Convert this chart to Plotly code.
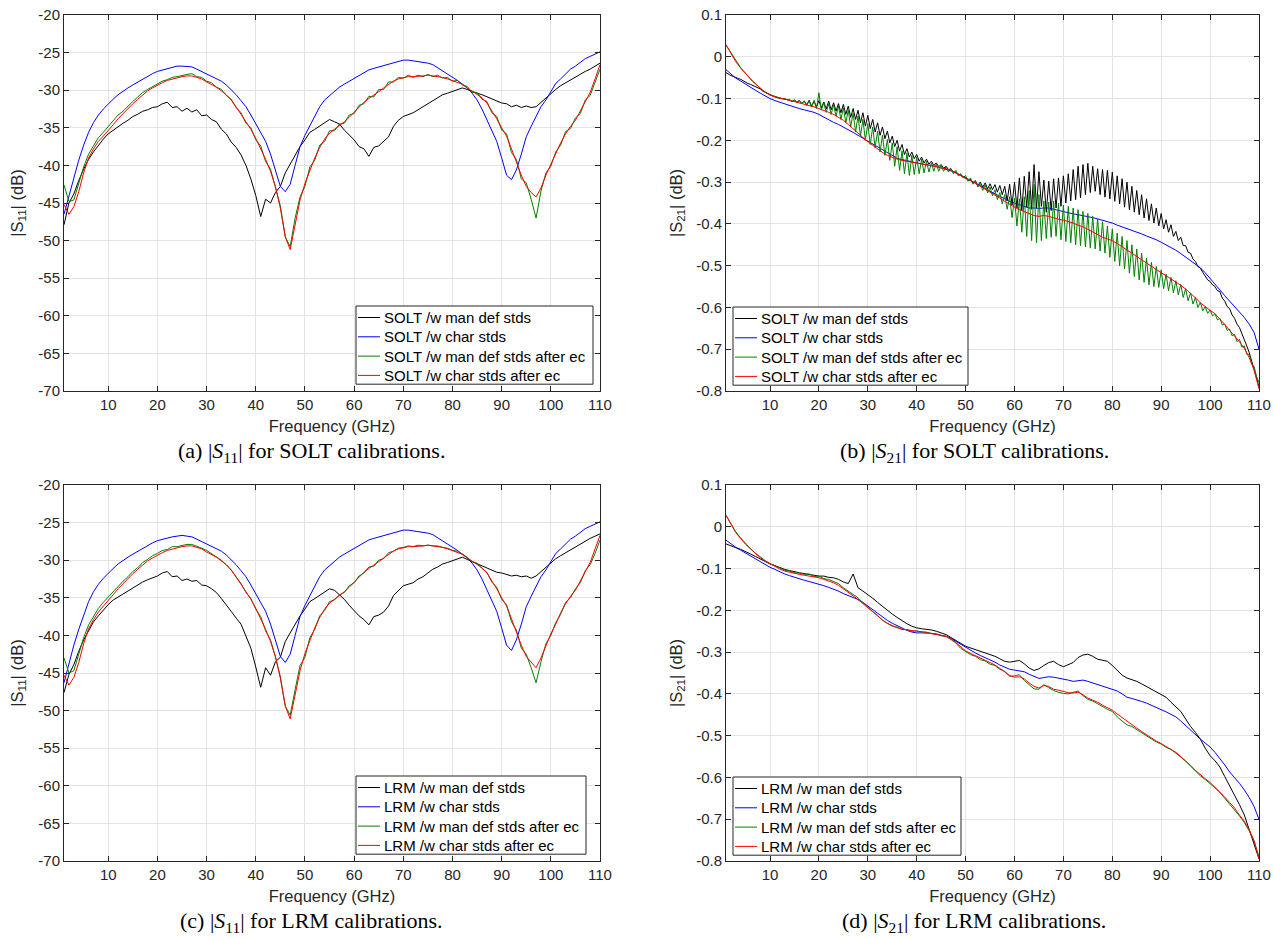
import plotly.graph_objects as go

freq = list(range(1, 111))
freq_fine = [1 + 0.5 * i for i in range(219)]

# ---------- (a) |S11| SOLT ----------
a_man = [-47.9,-45.0,-43.8,-42.0,-40.5,-39.2,-38.2,-37.3,-36.5,-35.8,-35.3,-34.8,-34.4,-34.0,-33.5,-33.2,-32.8,-32.6,-32.3,-32.2,
         -31.8,-31.6,-32.3,-32.2,-32.8,-32.4,-32.9,-32.6,-33.4,-33.3,-33.9,-34.2,-35.2,-35.8,-36.9,-37.6,-38.6,-40.0,-41.8,-44.0,
         -46.8,-44.5,-45.0,-43.6,-42.8,-41.0,-39.8,-38.6,-37.5,-36.6,-35.6,-35.2,-34.8,-34.3,-33.9,-34.2,-34.5,-35.3,-35.9,-36.6,
         -37.5,-37.8,-38.8,-37.6,-37.4,-36.8,-36.2,-34.8,-34.0,-33.5,-33.3,-33.0,-32.6,-32.2,-31.8,-31.3,-30.9,-30.6,-30.4,-30.2,
         -30.0,-29.7,-29.9,-30.2,-30.4,-30.6,-30.9,-31.2,-31.5,-31.7,-31.8,-32.2,-32.0,-32.3,-32.1,-32.3,-32.2,-31.6,-31.0,-30.4,
         -29.9,-29.4,-29.0,-28.6,-28.3,-27.9,-27.5,-27.2,-26.8,-26.4]
a_char = [-46.5,-44.0,-41.5,-39.3,-37.3,-35.6,-34.3,-33.3,-32.5,-31.8,-31.2,-30.6,-30.1,-29.7,-29.3,-28.9,-28.5,-28.1,-27.8,-27.5,
          -27.3,-27.1,-26.9,-26.8,-26.8,-26.8,-26.9,-27.2,-27.5,-27.8,-28.1,-28.4,-28.8,-29.3,-29.9,-30.6,-31.4,-32.2,-33.3,-34.5,
          -35.6,-36.8,-38.5,-40.6,-42.8,-43.5,-42.5,-40.0,-37.5,-36.0,-34.8,-33.4,-32.2,-31.3,-30.7,-30.1,-29.6,-29.2,-28.8,-28.4,
          -28.0,-27.6,-27.3,-27.1,-26.9,-26.7,-26.5,-26.3,-26.1,-26.0,-26.0,-26.1,-26.2,-26.3,-26.4,-26.6,-27.0,-27.5,-27.9,-28.3,
          -28.7,-29.2,-29.7,-30.4,-31.3,-32.5,-33.9,-35.2,-36.8,-39.0,-41.3,-41.9,-40.6,-38.5,-36.2,-34.8,-33.4,-32.2,-31.3,-30.2,
          -29.1,-28.5,-27.8,-27.2,-26.8,-26.3,-25.8,-25.5,-25.2,-24.9]
a_man_ec = [-42.6,-44.8,-44.6,-42.5,-40.2,-38.5,-37.4,-36.3,-35.6,-34.8,-34.1,-33.3,-32.8,-32.1,-31.5,-30.9,-30.3,-29.9,-29.5,-29.1,
            -28.8,-28.6,-28.3,-28.2,-28.0,-27.9,-27.8,-28.2,-28.3,-28.8,-29.0,-29.6,-29.9,-30.7,-31.2,-32.3,-33.0,-34.4,-35.0,-36.6,
            -37.4,-39.5,-40.5,-43.0,-45.4,-49.5,-50.8,-47.0,-44.2,-42.8,-40.2,-39.3,-37.3,-36.8,-35.4,-35.4,-34.5,-34.4,-33.3,-33.1,
            -32.0,-31.8,-30.8,-30.9,-29.9,-29.9,-28.9,-28.9,-28.3,-28.4,-28.0,-28.3,-28.0,-28.2,-27.9,-28.2,-28.0,-28.4,-28.3,-28.8,
            -28.7,-29.3,-29.5,-30.3,-30.3,-31.2,-31.5,-33.0,-33.5,-35.3,-35.8,-38.3,-39.2,-41.8,-42.3,-44.5,-47.0,-43.4,-41.0,-40.1,
            -38.2,-37.3,-35.5,-35.1,-33.7,-33.1,-31.3,-30.7,-29.0,-27.2]
a_char_ec = [-45.2,-46.5,-45.5,-43.5,-41.0,-39.0,-37.8,-36.8,-36.1,-35.4,-34.6,-33.8,-33.1,-32.5,-31.8,-31.2,-30.6,-30.1,-29.7,-29.3,
             -29.0,-28.7,-28.5,-28.3,-28.2,-28.1,-28.1,-28.3,-28.5,-28.9,-29.2,-29.6,-30.1,-30.6,-31.3,-32.2,-33.2,-34.2,-35.2,-36.4,
             -37.7,-39.2,-40.8,-42.8,-45.7,-49.5,-51.2,-47.8,-44.6,-42.4,-40.6,-39.0,-37.6,-36.5,-35.7,-35.2,-34.8,-34.2,-33.6,-32.9,
             -32.3,-31.6,-31.1,-30.7,-30.2,-29.7,-29.2,-28.8,-28.5,-28.3,-28.2,-28.2,-28.2,-28.1,-28.0,-28.1,-28.2,-28.3,-28.5,-28.7,
             -28.9,-29.2,-29.7,-30.1,-30.5,-31.0,-31.7,-32.7,-33.8,-35.0,-36.1,-37.8,-39.6,-41.3,-42.8,-43.6,-44.2,-43.0,-41.3,-39.8,
             -38.5,-37.0,-35.8,-34.8,-34.0,-32.8,-31.5,-30.3,-28.5,-26.6]

# ---------- (c) |S11| LRM ----------
c_man = [-47.6,-45.2,-43.9,-42.1,-40.6,-39.3,-38.2,-37.4,-36.6,-35.9,-35.3,-34.9,-34.4,-34.0,-33.6,-33.2,-32.9,-32.6,-32.4,-32.1,
         -31.7,-31.5,-32.2,-32.1,-32.7,-32.5,-32.8,-32.7,-33.3,-33.4,-33.8,-34.3,-35.1,-35.9,-36.8,-37.7,-38.5,-40.1,-41.7,-44.2,
         -46.9,-44.3,-45.3,-43.5,-42.9,-40.8,-39.7,-38.5,-37.4,-36.5,-35.5,-35.1,-34.7,-34.2,-33.8,-34.0,-34.6,-35.2,-36.0,-36.7,
         -37.4,-37.9,-38.6,-37.5,-37.3,-36.9,-36.1,-34.7,-34.1,-33.4,-33.2,-33.0,-32.5,-32.2,-31.7,-31.2,-30.9,-30.5,-30.3,-30.1,
         -29.9,-29.6,-29.9,-30.2,-30.5,-30.7,-31.0,-31.3,-31.6,-31.7,-31.9,-32.1,-32.0,-32.2,-32.1,-32.4,-32.1,-31.5,-30.9,-30.3,
         -29.8,-29.4,-29.0,-28.6,-28.2,-27.8,-27.5,-27.1,-26.8,-26.5]
c_char = [-46.3,-43.8,-41.3,-39.2,-37.2,-35.5,-34.2,-33.2,-32.4,-31.7,-31.1,-30.5,-30.0,-29.6,-29.2,-28.8,-28.4,-28.0,-27.7,-27.4,
          -27.2,-27.0,-26.9,-26.8,-26.7,-26.8,-26.9,-27.2,-27.5,-27.8,-28.1,-28.4,-28.8,-29.3,-29.9,-30.6,-31.4,-32.2,-33.3,-34.5,
          -35.6,-36.8,-38.5,-40.6,-42.8,-43.6,-42.5,-40.0,-37.5,-36.0,-34.8,-33.4,-32.2,-31.3,-30.7,-30.1,-29.6,-29.2,-28.8,-28.4,
          -28.0,-27.6,-27.3,-27.1,-26.9,-26.7,-26.5,-26.3,-26.1,-26.0,-26.0,-26.1,-26.2,-26.3,-26.4,-26.6,-27.0,-27.5,-27.9,-28.3,
          -28.7,-29.2,-29.7,-30.4,-31.3,-32.5,-33.9,-35.2,-36.8,-39.0,-41.3,-42.0,-40.6,-38.5,-36.2,-34.8,-33.4,-32.2,-31.3,-30.2,
          -29.1,-28.5,-27.8,-27.2,-26.8,-26.3,-25.8,-25.5,-25.2,-24.9]
c_man_ec = [-43.0,-45.0,-44.7,-42.6,-40.3,-38.6,-37.4,-36.4,-35.6,-34.9,-34.1,-33.4,-32.8,-32.2,-31.5,-31.0,-30.3,-29.9,-29.4,-29.1,
            -28.7,-28.6,-28.2,-28.2,-28.0,-27.9,-27.9,-28.1,-28.4,-28.7,-29.1,-29.5,-30.0,-30.6,-31.3,-32.2,-33.1,-34.3,-35.1,-36.5,
            -37.5,-39.4,-40.6,-42.9,-45.5,-49.4,-50.6,-47.2,-44.0,-42.9,-40.3,-39.2,-37.4,-36.7,-35.5,-35.3,-34.6,-34.3,-33.4,-33.0,
            -32.1,-31.7,-30.9,-30.8,-30.0,-29.8,-29.0,-28.8,-28.4,-28.3,-28.1,-28.2,-28.0,-28.1,-28.0,-28.1,-28.1,-28.3,-28.4,-28.7,
            -28.8,-29.2,-29.6,-30.2,-30.4,-31.1,-31.6,-32.9,-33.6,-35.2,-35.9,-38.2,-39.3,-41.7,-42.5,-44.3,-46.3,-43.5,-41.1,-40.0,
            -38.3,-37.2,-35.6,-35.0,-33.8,-33.0,-31.4,-30.6,-29.1,-27.3]
c_char_ec = [-45.3,-46.6,-45.6,-43.6,-41.1,-39.1,-37.9,-36.9,-36.1,-35.4,-34.6,-33.8,-33.1,-32.5,-31.8,-31.2,-30.6,-30.1,-29.7,-29.3,
             -29.0,-28.7,-28.5,-28.3,-28.2,-28.1,-28.1,-28.3,-28.5,-28.9,-29.2,-29.6,-30.1,-30.6,-31.3,-32.2,-33.2,-34.2,-35.2,-36.4,
             -37.7,-39.2,-40.8,-42.8,-45.7,-49.4,-51.1,-47.9,-44.7,-42.4,-40.6,-39.0,-37.6,-36.5,-35.7,-35.2,-34.8,-34.2,-33.6,-32.9,
             -32.3,-31.6,-31.1,-30.7,-30.2,-29.7,-29.2,-28.8,-28.5,-28.3,-28.2,-28.2,-28.2,-28.1,-28.0,-28.1,-28.2,-28.3,-28.5,-28.7,
             -28.9,-29.2,-29.7,-30.1,-30.5,-31.0,-31.7,-32.7,-33.8,-35.0,-36.1,-37.8,-39.6,-41.3,-42.8,-43.6,-44.3,-43.0,-41.3,-39.8,
             -38.5,-37.0,-35.8,-34.8,-34.0,-32.8,-31.5,-30.3,-28.5,-26.7]

# ---------- (b) |S21| SOLT (noisy traces on a 0.5 GHz grid) ----------
b_man = [-0.038,-0.042,-0.045,-0.047,-0.050,-0.052,-0.054,-0.058,-0.060,-0.064,-0.066,-0.069,-0.071,-0.075,-0.077,-0.082,-0.085,-0.089,-0.092,-0.094,
         -0.096,-0.098,-0.099,-0.101,-0.102,-0.103,-0.104,-0.107,-0.104,-0.109,-0.105,-0.112,-0.106,-0.115,-0.104,-0.118,-0.106,-0.120,-0.105,-0.122,
         -0.108,-0.125,-0.106,-0.127,-0.110,-0.130,-0.112,-0.134,-0.114,-0.138,-0.118,-0.145,-0.124,-0.150,-0.128,-0.158,-0.134,-0.166,-0.140,-0.172,
         -0.150,-0.180,-0.158,-0.188,-0.168,-0.196,-0.178,-0.206,-0.190,-0.215,-0.200,-0.226,-0.210,-0.234,-0.220,-0.240,-0.228,-0.244,-0.234,-0.250,
         -0.240,-0.254,-0.245,-0.257,-0.250,-0.260,-0.254,-0.263,-0.258,-0.267,-0.262,-0.270,-0.268,-0.276,-0.276,-0.282,-0.283,-0.289,-0.290,-0.296,
         -0.294,-0.302,-0.297,-0.308,-0.300,-0.312,-0.302,-0.316,-0.304,-0.318,-0.306,-0.324,-0.308,-0.330,-0.310,-0.345,-0.305,-0.355,-0.300,-0.362,
         -0.290,-0.368,-0.286,-0.360,-0.275,-0.365,-0.258,-0.362,-0.275,-0.358,-0.295,-0.372,-0.298,-0.368,-0.292,-0.362,-0.290,-0.358,-0.285,-0.350,
         -0.280,-0.345,-0.270,-0.342,-0.262,-0.338,-0.258,-0.330,-0.255,-0.325,-0.262,-0.322,-0.268,-0.330,-0.270,-0.336,-0.272,-0.340,-0.276,-0.346,
         -0.285,-0.352,-0.292,-0.360,-0.300,-0.366,-0.310,-0.372,-0.320,-0.378,-0.330,-0.386,-0.340,-0.392,-0.352,-0.398,-0.362,-0.405,-0.375,-0.412,
         -0.390,-0.420,-0.402,-0.430,-0.418,-0.440,-0.432,-0.452,-0.452,-0.468,-0.470,-0.484,-0.490,-0.502,-0.506,-0.516,-0.524,-0.534,-0.538,-0.546,
         -0.550,-0.560,-0.562,-0.578,-0.585,-0.598,-0.603,-0.618,-0.626,-0.640,-0.648,-0.662,-0.674,-0.692,-0.708,-0.730,-0.745,-0.770,-0.790]
b_char = [-0.031,-0.042,-0.051,-0.058,-0.066,-0.073,-0.080,-0.087,-0.094,-0.100,-0.105,-0.109,-0.113,-0.117,-0.121,-0.124,-0.127,-0.130,-0.133,-0.138,
          -0.145,-0.151,-0.157,-0.162,-0.168,-0.175,-0.181,-0.188,-0.195,-0.203,-0.210,-0.217,-0.224,-0.231,-0.238,-0.243,-0.246,-0.249,-0.252,-0.254,
          -0.256,-0.258,-0.261,-0.263,-0.266,-0.269,-0.273,-0.277,-0.283,-0.290,-0.295,-0.301,-0.308,-0.315,-0.322,-0.328,-0.334,-0.340,-0.346,-0.350,
          -0.354,-0.358,-0.362,-0.362,-0.363,-0.362,-0.362,-0.365,-0.368,-0.371,-0.374,-0.376,-0.378,-0.380,-0.382,-0.385,-0.388,-0.391,-0.394,-0.398,
          -0.403,-0.407,-0.411,-0.415,-0.419,-0.424,-0.429,-0.433,-0.438,-0.444,-0.450,-0.456,-0.463,-0.471,-0.480,-0.489,-0.497,-0.505,-0.517,-0.530,
          -0.544,-0.558,-0.572,-0.585,-0.596,-0.610,-0.624,-0.640,-0.660,-0.700]
b_man_ec = [0.028,0.019,0.010,0.000,-0.010,-0.018,-0.026,-0.033,-0.040,-0.047,-0.053,-0.059,-0.064,-0.070,-0.075,-0.080,-0.084,-0.088,-0.091,-0.093,
            -0.095,-0.097,-0.098,-0.100,-0.100,-0.103,-0.102,-0.107,-0.103,-0.110,-0.104,-0.113,-0.105,-0.117,-0.106,-0.120,-0.104,-0.124,-0.086,-0.128,
            -0.110,-0.133,-0.112,-0.138,-0.115,-0.142,-0.118,-0.150,-0.122,-0.158,-0.128,-0.168,-0.135,-0.180,-0.142,-0.190,-0.150,-0.200,-0.160,-0.210,
            -0.168,-0.218,-0.178,-0.228,-0.188,-0.236,-0.198,-0.248,-0.206,-0.262,-0.215,-0.272,-0.225,-0.280,-0.230,-0.284,-0.236,-0.282,-0.240,-0.280,
            -0.245,-0.278,-0.250,-0.276,-0.254,-0.274,-0.256,-0.274,-0.260,-0.274,-0.263,-0.276,-0.268,-0.280,-0.272,-0.285,-0.280,-0.290,-0.284,-0.298,
            -0.290,-0.305,-0.296,-0.312,-0.302,-0.320,-0.306,-0.326,-0.312,-0.333,-0.318,-0.342,-0.325,-0.352,-0.330,-0.365,-0.335,-0.385,-0.338,-0.405,
            -0.340,-0.420,-0.335,-0.430,-0.320,-0.440,-0.305,-0.445,-0.330,-0.440,-0.345,-0.435,-0.348,-0.432,-0.345,-0.430,-0.350,-0.438,-0.355,-0.442,
            -0.358,-0.445,-0.362,-0.450,-0.366,-0.452,-0.370,-0.455,-0.375,-0.458,-0.382,-0.460,-0.388,-0.465,-0.395,-0.470,-0.405,-0.480,-0.412,-0.490,
            -0.422,-0.500,-0.430,-0.508,-0.440,-0.518,-0.450,-0.526,-0.460,-0.534,-0.470,-0.540,-0.482,-0.546,-0.492,-0.550,-0.502,-0.552,-0.510,-0.555,
            -0.520,-0.560,-0.528,-0.565,-0.536,-0.570,-0.545,-0.576,-0.555,-0.584,-0.565,-0.592,-0.576,-0.600,-0.588,-0.608,-0.598,-0.614,-0.606,-0.620,
            -0.615,-0.630,-0.626,-0.642,-0.640,-0.655,-0.652,-0.668,-0.664,-0.682,-0.676,-0.695,-0.692,-0.712,-0.712,-0.735,-0.742,-0.765,-0.780]
b_char_ec = [0.029,0.010,-0.012,-0.027,-0.041,-0.053,-0.065,-0.076,-0.085,-0.092,-0.096,-0.099,-0.101,-0.104,-0.107,-0.110,-0.113,-0.117,-0.120,-0.124,
             -0.128,-0.133,-0.138,-0.145,-0.152,-0.162,-0.173,-0.183,-0.193,-0.203,-0.212,-0.221,-0.229,-0.236,-0.241,-0.245,-0.248,-0.250,-0.252,-0.254,
             -0.256,-0.258,-0.260,-0.263,-0.266,-0.268,-0.272,-0.279,-0.285,-0.291,-0.296,-0.303,-0.310,-0.316,-0.322,-0.330,-0.338,-0.346,-0.354,-0.360,
             -0.366,-0.371,-0.376,-0.380,-0.382,-0.380,-0.382,-0.386,-0.389,-0.391,-0.394,-0.398,-0.403,-0.407,-0.413,-0.420,-0.427,-0.432,-0.436,-0.440,
             -0.447,-0.455,-0.463,-0.470,-0.477,-0.486,-0.494,-0.502,-0.510,-0.517,-0.524,-0.531,-0.539,-0.547,-0.556,-0.566,-0.577,-0.589,-0.599,-0.607,
             -0.615,-0.627,-0.641,-0.655,-0.668,-0.682,-0.698,-0.720,-0.750,-0.795]

# ---------- (d) |S21| LRM ----------
d_man = [-0.041,-0.046,-0.050,-0.054,-0.059,-0.065,-0.071,-0.077,-0.083,-0.089,-0.093,-0.098,-0.102,-0.105,-0.108,-0.110,-0.112,-0.114,-0.116,-0.118,
         -0.118,-0.121,-0.122,-0.126,-0.132,-0.136,-0.113,-0.146,-0.154,-0.162,-0.171,-0.181,-0.191,-0.200,-0.209,-0.217,-0.225,-0.232,-0.238,-0.242,
         -0.244,-0.245,-0.247,-0.250,-0.254,-0.258,-0.265,-0.272,-0.279,-0.286,-0.290,-0.294,-0.298,-0.302,-0.306,-0.310,-0.316,-0.322,-0.324,-0.322,
         -0.320,-0.328,-0.338,-0.344,-0.340,-0.332,-0.325,-0.322,-0.330,-0.335,-0.330,-0.325,-0.313,-0.307,-0.305,-0.310,-0.317,-0.320,-0.322,-0.332,
         -0.343,-0.355,-0.362,-0.366,-0.370,-0.376,-0.382,-0.390,-0.396,-0.400,-0.408,-0.420,-0.432,-0.442,-0.460,-0.478,-0.492,-0.508,-0.530,-0.548,
         -0.560,-0.575,-0.598,-0.620,-0.645,-0.665,-0.690,-0.725,-0.755,-0.795]
d_char = [-0.032,-0.041,-0.049,-0.056,-0.063,-0.070,-0.076,-0.083,-0.090,-0.097,-0.102,-0.108,-0.113,-0.117,-0.121,-0.124,-0.128,-0.131,-0.134,-0.137,
          -0.141,-0.145,-0.149,-0.154,-0.160,-0.165,-0.169,-0.174,-0.181,-0.190,-0.198,-0.206,-0.215,-0.224,-0.231,-0.237,-0.243,-0.248,-0.252,-0.254,
          -0.254,-0.254,-0.255,-0.257,-0.259,-0.262,-0.267,-0.274,-0.282,-0.290,-0.296,-0.302,-0.308,-0.313,-0.318,-0.324,-0.331,-0.337,-0.341,-0.343,
          -0.345,-0.347,-0.353,-0.358,-0.363,-0.361,-0.359,-0.360,-0.362,-0.364,-0.367,-0.370,-0.369,-0.367,-0.370,-0.374,-0.377,-0.381,-0.385,-0.389,
          -0.393,-0.400,-0.408,-0.411,-0.414,-0.418,-0.422,-0.427,-0.432,-0.437,-0.443,-0.449,-0.455,-0.465,-0.476,-0.488,-0.499,-0.508,-0.518,-0.527,
          -0.540,-0.554,-0.570,-0.587,-0.600,-0.614,-0.630,-0.648,-0.670,-0.700]
d_man_ec = [0.027,0.008,-0.012,-0.027,-0.040,-0.052,-0.063,-0.073,-0.081,-0.088,-0.094,-0.099,-0.104,-0.106,-0.110,-0.111,-0.114,-0.113,-0.119,-0.118,
            -0.124,-0.126,-0.132,-0.136,-0.146,-0.154,-0.163,-0.170,-0.182,-0.191,-0.203,-0.212,-0.224,-0.231,-0.238,-0.240,-0.246,-0.246,-0.250,-0.249,
            -0.252,-0.252,-0.256,-0.256,-0.261,-0.262,-0.270,-0.278,-0.291,-0.298,-0.306,-0.310,-0.318,-0.321,-0.329,-0.332,-0.341,-0.346,-0.358,-0.357,
            -0.354,-0.368,-0.379,-0.388,-0.389,-0.378,-0.385,-0.392,-0.396,-0.399,-0.400,-0.397,-0.393,-0.404,-0.413,-0.417,-0.424,-0.430,-0.437,-0.442,
            -0.455,-0.465,-0.474,-0.478,-0.486,-0.492,-0.500,-0.508,-0.515,-0.520,-0.528,-0.533,-0.542,-0.551,-0.561,-0.573,-0.585,-0.596,-0.605,-0.614,
            -0.625,-0.636,-0.650,-0.662,-0.676,-0.692,-0.708,-0.728,-0.752,-0.790]
d_char_ec = [0.028,0.008,-0.014,-0.028,-0.042,-0.053,-0.064,-0.074,-0.082,-0.089,-0.095,-0.101,-0.106,-0.109,-0.112,-0.114,-0.116,-0.118,-0.120,-0.122,
             -0.126,-0.130,-0.134,-0.140,-0.148,-0.158,-0.166,-0.174,-0.184,-0.194,-0.204,-0.214,-0.223,-0.231,-0.237,-0.242,-0.245,-0.247,-0.249,-0.250,
             -0.251,-0.253,-0.255,-0.257,-0.260,-0.263,-0.268,-0.277,-0.288,-0.297,-0.303,-0.309,-0.315,-0.320,-0.325,-0.331,-0.338,-0.347,-0.356,-0.360,
             -0.359,-0.364,-0.374,-0.382,-0.386,-0.380,-0.382,-0.389,-0.391,-0.394,-0.397,-0.398,-0.396,-0.402,-0.410,-0.415,-0.420,-0.427,-0.433,-0.439,
             -0.448,-0.457,-0.466,-0.474,-0.482,-0.490,-0.498,-0.506,-0.513,-0.519,-0.526,-0.532,-0.540,-0.550,-0.560,-0.571,-0.583,-0.594,-0.603,-0.612,
             -0.623,-0.634,-0.647,-0.660,-0.673,-0.690,-0.705,-0.725,-0.752,-0.795]

colors = ["#000000", "#0000FF", "#008000", "#FF0000"]
suffixes = ["/w man def stds", "/w char stds", "/w man def stds after ec", "/w char stds after ec"]

W, H = 1273, 939

def px(x):
    return x / W

def py(y):
    return 1 - y / H

ROW2 = 470  # vertical offset of the second row of panels (px)

panels = [
    dict(series=[(freq, a_man), (freq, a_char), (freq, a_man_ec), (freq, a_char_ec)], cal="SOLT",
         xa="x", ya="y", box=(356, 593, 306), line=(358, 380), text=382),
    dict(series=[(freq_fine, b_man), (freq, b_char), (freq_fine, b_man_ec), (freq, b_char_ec)], cal="SOLT",
         xa="x2", ya="y2", box=(733, 968, 307), line=(735, 757), text=759),
    dict(series=[(freq, c_man), (freq, c_char), (freq, c_man_ec), (freq, c_char_ec)], cal="LRM",
         xa="x3", ya="y3", box=(356, 586, 306 + ROW2), line=(358, 380), text=382),
    dict(series=[(freq, d_man), (freq, d_char), (freq, d_man_ec), (freq, d_char_ec)], cal="LRM",
         xa="x4", ya="y4", box=(733, 961, 307 + ROW2), line=(735, 757), text=759),
]

axcol = "#262626"
sans = "Liberation Sans, Arial, sans-serif"
legend_font = dict(family=sans, size=15, color="#000000")

fig = go.Figure()
shapes = []
annotations = []
ROWH = 19.3
for p in panels:
    bx0, bx1, by0 = p["box"]
    by1 = by0 + 4 * ROWH + 1
    shapes.append(dict(type="rect", xref="paper", yref="paper", x0=px(bx0), x1=px(bx1), y0=py(by1), y1=py(by0),
                       line=dict(color=axcol, width=1), fillcolor="white", layer="above"))
    for i, ((fx_, vals), col, suf) in enumerate(zip(p["series"], colors, suffixes)):
        name = f"{p['cal']} {suf}"
        fig.add_trace(go.Scatter(x=fx_, y=vals, mode="lines", name=name, showlegend=False,
                                 line=dict(color=col, width=1), xaxis=p["xa"], yaxis=p["ya"]))
        yc = by0 + 11.5 + i * ROWH
        shapes.append(dict(type="line", xref="paper", yref="paper", x0=px(p["line"][0]), x1=px(p["line"][1]),
                           y0=py(yc), y1=py(yc), line=dict(color=col, width=1), layer="above"))
        annotations.append(dict(text=name, x=px(p["text"]), y=py(yc), xref="paper", yref="paper",
                                showarrow=False, xanchor="left", yanchor="middle", font=legend_font))

xL = [px(64), px(600)]
xR = [px(726), px(1259)]
yT = [py(391), py(15)]
yB = [py(391 + ROW2), py(15 + ROW2)]

tickfont = dict(family=sans, size=15, color=axcol)
titlefont = dict(family=sans, size=16.5, color=axcol)

def xaxis(dom, anchor):
    return dict(domain=dom, anchor=anchor, range=[1, 110], tickvals=list(range(10, 111, 10)),
                showline=True, linecolor=axcol, linewidth=1, mirror="ticks", ticks="inside",
                ticklen=5, tickcolor=axcol, showgrid=True, gridcolor="#e3e3e3", zeroline=False,
                tickfont=tickfont, title=dict(text="Frequency (GHz)", font=titlefont, standoff=8),
                automargin=False)

s11_ticks = list(range(-70, -19, 5))
s21_ticks = [-0.8, -0.7, -0.6, -0.5, -0.4, -0.3, -0.2, -0.1, 0, 0.1]
s21_text = ["-0.8", "-0.7", "-0.6", "-0.5", "-0.4", "-0.3", "-0.2", "-0.1", "0", "0.1"]

def yaxis(dom, anchor, rng, tv, tt, title, standoff):
    return dict(domain=dom, anchor=anchor, range=rng, tickvals=tv, ticktext=tt,
                showline=True, linecolor=axcol, linewidth=1, mirror="ticks", ticks="inside",
                ticklen=5, tickcolor=axcol, showgrid=True, gridcolor="#e3e3e3", zeroline=False,
                tickfont=tickfont, title=dict(text=title, font=titlefont, standoff=standoff),
                automargin=False)

cap_font = dict(family="Liberation Serif, Times New Roman, serif", size=22, color="#000000")
captions = [
    ("(a) |<i>S</i><sub>11</sub>| for SOLT calibrations.", px(311), py(452)),
    ("(b) |<i>S</i><sub>21</sub>| for SOLT calibrations.", px(974), py(452)),
    ("(c) |<i>S</i><sub>11</sub>| for LRM calibrations.", px(311), py(452 + ROW2)),
    ("(d) |<i>S</i><sub>21</sub>| for LRM calibrations.", px(974), py(452 + ROW2)),
]
for t, x, y in captions:
    annotations.append(dict(text=t, x=x, y=y, xref="paper", yref="paper", showarrow=False,
                            xanchor="center", yanchor="middle", font=cap_font))

fig.update_layout(
    width=W, height=H, margin=dict(l=0, r=0, t=0, b=0),
    paper_bgcolor="white", plot_bgcolor="white", showlegend=False,
    xaxis=xaxis(xL, "y"),
    yaxis=yaxis(yT, "x", [-70, -20], s11_ticks, [str(v) for v in s11_ticks], "|S<sub>11</sub>| (dB)", 10),
    xaxis2=xaxis(xR, "y2"),
    yaxis2=yaxis(yT, "x2", [-0.8, 0.1], s21_ticks, s21_text, "|S<sub>21</sub>| (dB)", 9),
    xaxis3=xaxis(xL, "y3"),
    yaxis3=yaxis(yB, "x3", [-70, -20], s11_ticks, [str(v) for v in s11_ticks], "|S<sub>11</sub>| (dB)", 10),
    xaxis4=xaxis(xR, "y4"),
    yaxis4=yaxis(yB, "x4", [-0.8, 0.1], s21_ticks, s21_text, "|S<sub>21</sub>| (dB)", 9),
    shapes=shapes,
    annotations=annotations,
)

# the page body has a default 8 px margin; remove it so the 1273x939 figure fills the window
fig.write_html("out.html", config={"displayModeBar": False},
               post_script="document.body.style.margin='0px';")
